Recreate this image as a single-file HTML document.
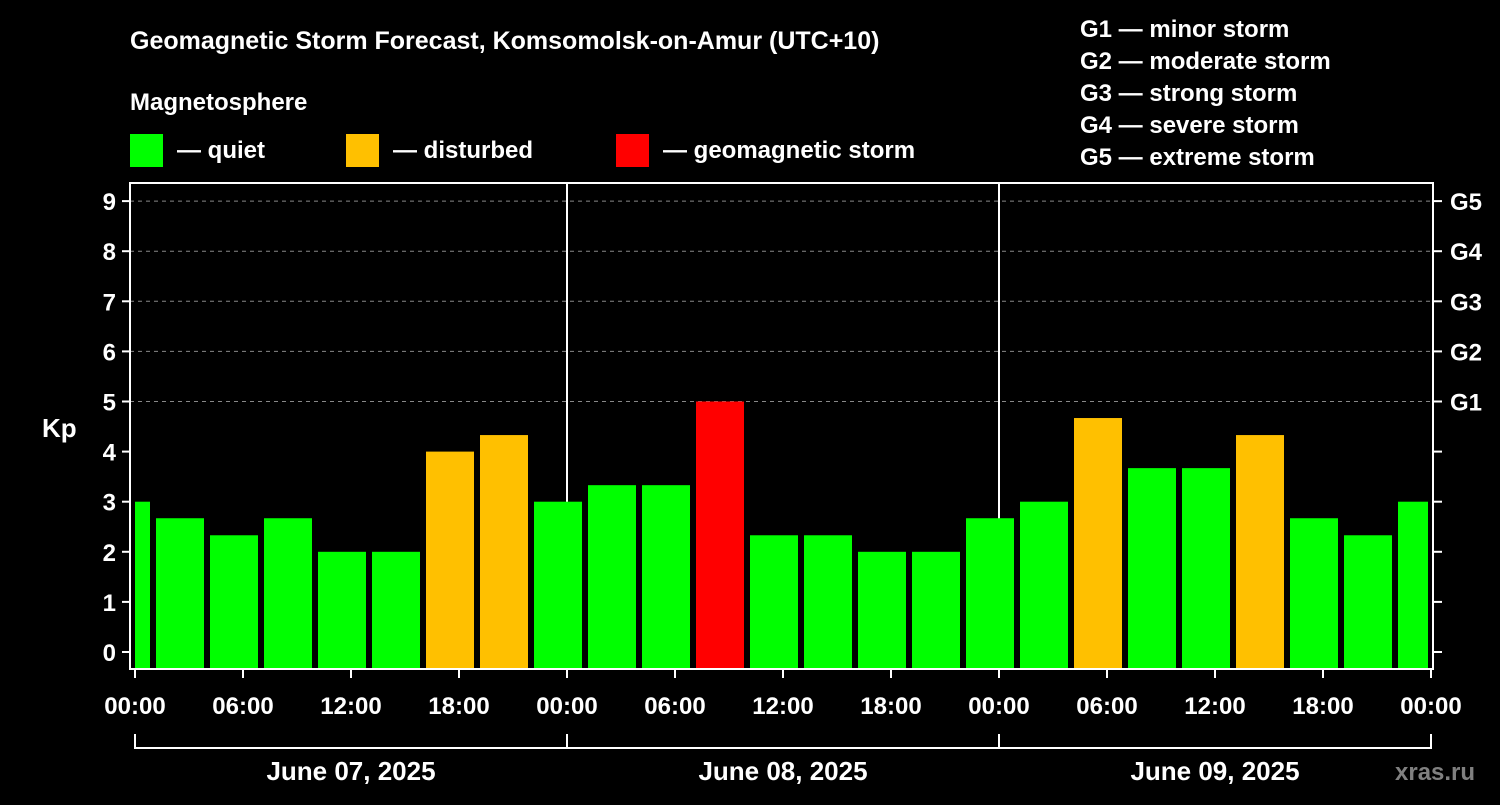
<!DOCTYPE html>
<html><head><meta charset="utf-8"><style>
body{margin:0;background:#000;}
svg text{font-family:"Liberation Sans",sans-serif;font-weight:bold;fill:#fff;}
</style></head><body>
<svg id="chart" width="1500" height="800" xmlns="http://www.w3.org/2000/svg">
<rect width="1500" height="800" fill="#000"/>
<text x="130" y="49" font-size="25">Geomagnetic Storm Forecast, Komsomolsk-on-Amur (UTC+10)</text>
<text x="130" y="110" font-size="24">Magnetosphere</text>
<g>
<rect x="130" y="134" width="33" height="33" fill="#00ff00"/>
<text x="177" y="158" font-size="24">— quiet</text>
<rect x="346" y="134" width="33" height="33" fill="#ffc000"/>
<text x="393" y="158" font-size="24">— disturbed</text>
<rect x="616" y="134" width="33" height="33" fill="#ff0000"/>
<text x="663" y="158" font-size="24">— geomagnetic storm</text>
</g>
<g font-size="24">
<text x="1080" y="37">G1 — minor storm</text>
<text x="1080" y="69">G2 — moderate storm</text>
<text x="1080" y="101">G3 — strong storm</text>
<text x="1080" y="133">G4 — severe storm</text>
<text x="1080" y="165">G5 — extreme storm</text>
</g>
<g id="grid"></g><g id="bars"></g><g id="axes"></g>
<text x="42" y="437" font-size="26">Kp</text>
<text x="1395" y="780" font-size="24" fill="#777" style="fill:#808080">xras.ru</text>
</svg>
<script>
const kpValues=[3.0,2.67,2.33,2.67,2.0,2.0,4.0,4.33,3.0,3.33,3.33,5.0,2.33,2.33,2.0,2.0,2.67,3.0,4.67,3.67,3.67,4.33,2.67,2.33,3.0];
const yTicks=[0,1,2,3,4,5,6,7,8,9];
const gLabels=["G1","G2","G3","G4","G5"];
const xTickLabels=["00:00","06:00","12:00","18:00","00:00","06:00","12:00","18:00","00:00","06:00","12:00","18:00","00:00"];
const dayLabels=["June 07, 2025","June 08, 2025","June 09, 2025"];
const NS="http://www.w3.org/2000/svg";
const X0=135,PXH=18,PL=130,PR=1433,PT=183,PB=669;
const y=v=>652-v*50.1;
const xh=h=>X0+h*PXH;
function mk(t,a,p,txt){const e=document.createElementNS(NS,t);for(const k in a)e.setAttribute(k,a[k]);if(txt!==undefined)e.textContent=txt;p.appendChild(e);return e;}
const grid=document.getElementById('grid'),bars=document.getElementById('bars'),axes=document.getElementById('axes');
yTicks.forEach(v=>{if(v>=5){const l=mk('line',{x1:PL,x2:PR,y1:y(v),y2:y(v),stroke:'#888','stroke-dasharray':'4,4','stroke-width':1},grid);

}});
[1,2].forEach(d=>{const l=mk('line',{x1:xh(24*d),x2:xh(24*d),y1:PT,y2:PB,stroke:'#fff','stroke-width':2},grid);

});
kpValues.forEach((v,i)=>{const c=xh(-0.5+3*i);let x1=Math.max(c-24,X0),x2=Math.min(c+24,PR-5);
const col=v>=5?'#ff0000':v>=4?'#ffc000':'#00ff00';
const r=mk('rect',{x:x1,y:y(v),width:x2-x1,height:PB-y(v),fill:col},bars);

});
const fr=mk('rect',{x:PL,y:PT,width:PR-PL,height:PB-PT,fill:'none',stroke:'#fff','stroke-width':2},axes);


yTicks.forEach(v=>{mk('line',{x1:PL-8,x2:PL,y1:y(v),y2:y(v),stroke:'#fff','stroke-width':2},axes);
mk('line',{x1:PR,x2:PR+9,y1:y(v),y2:y(v),stroke:'#fff','stroke-width':2},axes);
const t=mk('text',{x:PL-14,y:y(v)+9,'font-size':24,'text-anchor':'end'},axes,String(v));

});
gLabels.forEach((g,i)=>{const t=mk('text',{x:1450,y:y(5+i)+9,'font-size':24},axes,g);

});
xTickLabels.forEach((s,i)=>{const x=xh(6*i);mk('line',{x1:x,x2:x,y1:PB,y2:PB+9,stroke:'#fff','stroke-width':2},axes);
const t=mk('text',{x:x,y:714,'font-size':24,'text-anchor':'middle'},axes,s);

});
mk('line',{x1:xh(0),x2:xh(72),y1:748,y2:748,stroke:'#fff','stroke-width':2},axes);
[0,1,2,3].forEach(d=>mk('line',{x1:xh(24*d),x2:xh(24*d),y1:734,y2:749,stroke:'#fff','stroke-width':2},axes));
dayLabels.forEach((s,i)=>{const t=mk('text',{x:xh(24*i+12),y:780,'font-size':26,'text-anchor':'middle'},axes,s);

});
</script>
</body></html>
